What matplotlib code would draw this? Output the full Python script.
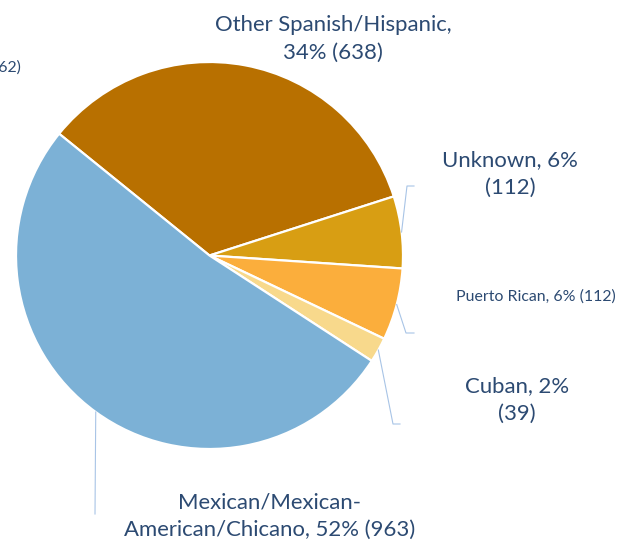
import matplotlib
matplotlib.use("Agg")
import matplotlib.pyplot as plt
import numpy as np
from matplotlib.lines import Line2D

# data
groups = ["Other Spanish/Hispanic", "Unknown", "Puerto Rican", "Cuban",
          "Mexican/Mexican-American/Chicano"]
counts = [638, 112, 112, 39, 963]
pcts = [34, 6, 6, 2, 52]
colors = ["#B87000", "#D89E13", "#FBAE3C", "#F8D98C", "#7CB1D6"]

W, H = 622, 543
txt_col = "#2C4A72"
lead_col = "#A8C4E6"
plt.rcParams['font.family'] = ['Lato', 'DejaVu Sans']

fig = plt.figure(figsize=(W / 100, H / 100), dpi=100)

def px(x, y):
    return x / W, 1 - y / H

# pie placed by pixel geometry: centre (209.5, 255.5), radius 193.5
cx, cy, r = 209.5, 255.5, 193.5
ax = fig.add_axes([(cx - r) / W, 1 - (cy + r) / H, 2 * r / W, 2 * r / H])
wedges, _ = ax.pie(counts, colors=colors, startangle=141, counterclock=False,
                   radius=1.0, wedgeprops=dict(edgecolor="white", linewidth=1.6))
ax.set_xlim(-1, 1)
ax.set_ylim(-1, 1)
ax.set_aspect("equal")
ax.axis("off")

def edge_px(w):
    ang = np.deg2rad((w.theta1 + w.theta2) / 2)
    return cx + r * np.cos(ang), cy - r * np.sin(ang)

# leader lines (label anchors in pixels)
bends = {1: [(407, 186), (414, 186)],
         2: [(406, 333), (414, 333)],
         3: [(393, 424), (400, 424)],
         4: [(95, 514)]}
for i, pts in bends.items():
    x0, y0 = edge_px(wedges[i])
    path = [(x0, y0)] + pts
    xs = [p[0] / W for p in path]
    ys = [1 - p[1] / H for p in path]
    fig.add_artist(Line2D(xs, ys, color=lead_col, linewidth=0.8,
                          transform=fig.transFigure))

big = 15.9
small = 11.4
fig.text(*px(333, 39), f"{groups[0]},\n{pcts[0]}% ({counts[0]})", ha="center",
         va="center", fontsize=big, color=txt_col, linespacing=1.45)
fig.text(*px(510, 174), f"{groups[1]}, {pcts[1]}%\n({counts[1]})", ha="center",
         va="center", fontsize=big, color=txt_col, linespacing=1.45)
fig.text(*px(536, 297), f"{groups[2]}, {pcts[2]}% ({counts[2]})", ha="center",
         va="center", fontsize=small, color=txt_col)
fig.text(*px(517, 400), f"{groups[3]}, {pcts[3]}%\n({counts[3]})", ha="center",
         va="center", fontsize=big, color=txt_col, linespacing=1.45)
fig.text(*px(270, 516), "Mexican/Mexican-\nAmerican/Chicano, "
         f"{pcts[4]}% ({counts[4]})", ha="center", va="center",
         fontsize=big, color=txt_col, linespacing=1.45)
# label of a neighbouring chart, cut off at the left edge as in the original
fig.text(*px(21, 68), "(62)", ha="right", va="center", fontsize=small,
         color=txt_col)

fig.savefig("out.png", dpi=100)
